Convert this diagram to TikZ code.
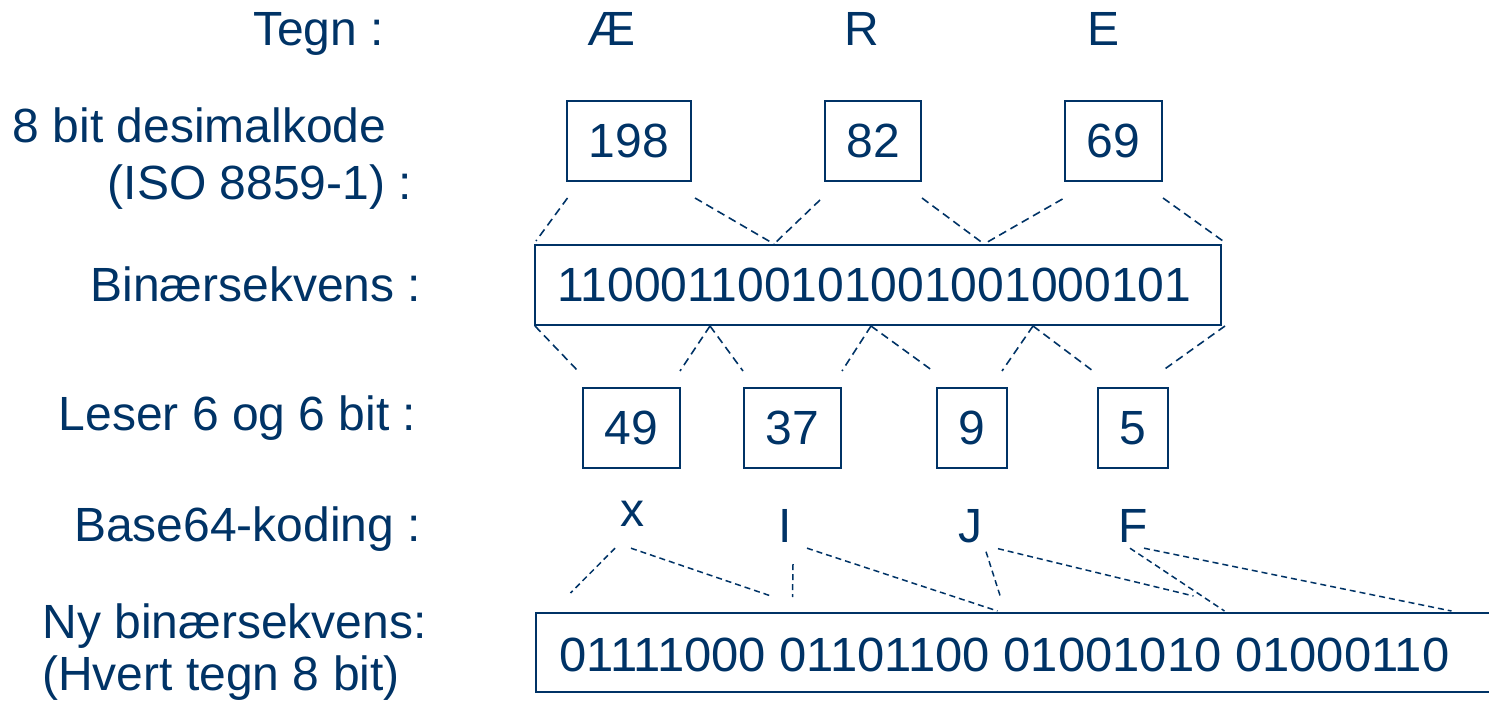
\documentclass[tikz,border=0pt]{standalone}
\usepackage{fontspec}
\setmainfont{Liberation Sans}
\usetikzlibrary{calc}
\definecolor{navy}{RGB}{0,51,102}
\begin{document}
\begin{tikzpicture}[x=1pt,y=-1pt,
  every node/.style={text=navy, font=\fontsize{48}{57}\selectfont},
  lbl/.style={inner sep=0pt, anchor=base},
  lblw/.style={inner sep=0pt, anchor=base west},
  chr/.style={inner sep=0pt, anchor=base},
  numbox/.style={draw=navy, line width=2pt, inner sep=0pt, minimum height=80pt},
  link/.style={draw=navy, line width=1.6pt, dash pattern=on 8pt off 5pt},
  fine/.style={draw=navy, line width=1.5pt, dash pattern=on 6pt off 4pt}]
\useasboundingbox (0,0) rectangle (1489,704);
\clip (0,0) rectangle (1489,704);

% labels
\node[lbl] (l1) at (318.5,45) {Tegn :};
\node[lbl] (l2) at (199.5,142.5) {8 bit desimalkode};
\node[lbl] (l3) at (260,199.5) {(ISO 8859-1) :};
\node[lbl] (l4) at (256,301) {Binærsekvens :};
\node[lbl] (l5) at (237.5,430) {Leser 6 og 6 bit :};
\node[lbl] (l6) at (247.5,541) {Base64-koding :};
\node[lbl] (l7) at (234.5,638) {Ny binærsekvens:};
\node[lbl] (l8) at (221,690) {(Hvert tegn 8 bit)};

% characters
\node[chr] (cAE) at (611,45) {Æ};
\node[chr] (cR) at (862,45) {R};
\node[chr] (cE) at (1103,45) {E};

% boxes
\node[numbox, minimum width=124pt] (b198) at (629,141) {198};
\node[numbox, minimum width=96pt] (b82) at (873,141) {82};
\node[numbox, minimum width=97pt] (b69) at (1113.5,141) {69};
\node[numbox, minimum width=686pt] (bin) at (878,285) {};
\node[chr] (bintxt) at (874.5,301.5) {110001100101001001000101};
\node[numbox, minimum width=97pt] (b49) at (631.5,428) {49};
\node[numbox, minimum width=97pt] (b37) at (792.5,428) {37};
\node[numbox, minimum width=70pt] (b9) at (972,428) {9};
\node[numbox, minimum width=70pt] (b5) at (1133,428) {5};
\node[numbox, minimum width=975pt, minimum height=79pt] (newbin) at (1023,652.5) {};
\node[lblw] (newtxt) at (559,671.5) {\scalebox{1.02}[1]{01111000 01101100 01001010 01000110}};

% base64 letters
\node[chr] (lx) at (632,526) {x};
\node[chr] (lI) at (785,542) {I};
\node[chr] (lJ) at (970,542) {J};
\node[chr] (lF) at (1133,542) {F};

% top links
\coordinate (t1) at ($(bin.north west)+(2,-3)$);
\coordinate (t2) at ($(bin.north west)+(240,0)$);
\coordinate (t3) at ($(bin.north west)+(450,0)$);
\coordinate (t4) at ($(bin.north east)+(1,-3)$);
\draw[link] ($(b198.south west)+(1.5,16)$) -- (t1);
\draw[link] ($(b198.south east)+(3,16)$) -- (t2);
\draw[link] ($(b82.south west)+(-4,18)$) -- (t2);
\draw[link] ($(b82.south east)+(0,16)$) -- (t3);
\draw[link] ($(b69.south west)+(-1.5,17)$) -- (t3);
\draw[link] ($(b69.south east)+(0,16)$) -- (t4);

% middle links
\coordinate (m0) at ($(bin.south west)+(1,0)$);
\coordinate (m1) at ($(bin.south west)+(176,0)$);
\coordinate (m2) at ($(bin.south west)+(337,0)$);
\coordinate (m3) at ($(bin.south west)+(499,0)$);
\coordinate (m4) at ($(bin.south east)+(3,0)$);
\draw[link] (m0) -- ($(b49.north west)+(-4,-16)$);
\draw[link] (m1) -- ($(b49.north east)+(-1,-16)$);
\draw[link] (m1) -- ($(b37.north west)+(0,-16)$);
\draw[link] (m2) -- ($(b37.north east)+(0,-16)$);
\draw[link] (m2) -- ($(b9.north west)+(-3,-16)$);
\draw[link] (m3) -- ($(b9.north east)+(-6,-16)$);
\draw[link] (m3) -- ($(b5.north west)+(-4,-16)$);
\draw[link] (m4) -- ($(b5.north east)+(-7,-16)$);

% bottom links
\draw[fine] ($(lx.south)+(-17,22)$) -- ($(newbin.north west)+(36,-19)$);
\draw[fine] ($(lx.south)+(-1,22)$) -- ($(newbin.north west)+(236.5,-16)$);
\draw[fine] ($(lI.south)+(8,22)$) -- ($(newbin.north west)+(258,-15)$);
\draw[fine] ($(lI.south)+(22,6)$) -- ($(newbin.north west)+(463,-1)$);
\draw[fine] ($(lJ.south)+(16,9)$) -- ($(newbin.north west)+(466,-15)$);
\draw[fine] ($(lJ.south)+(28,6)$) -- ($(newbin.north west)+(659,-16)$);
\draw[fine] ($(lF.south)+(-3,6)$) -- ($(newbin.north west)+(690,-1)$);
\draw[fine] ($(lF.south)+(11,6)$) -- ($(newbin.north west)+(917,-1)$);
\end{tikzpicture}
\end{document}
